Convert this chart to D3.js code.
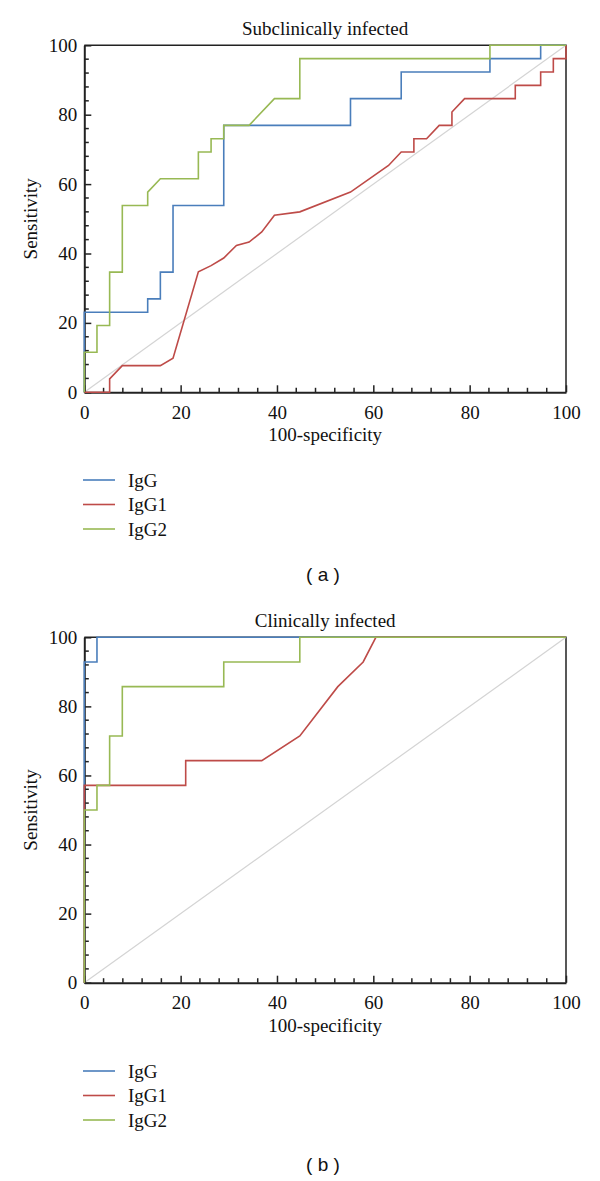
<!DOCTYPE html>
<html><head><meta charset="utf-8">
<script src="https://cdn.jsdelivr.net/npm/d3@7"></script>
<style>
body{margin:0;background:#fff;}
svg text{font-family:"Liberation Serif","Times New Roman",serif;fill:#111;}
</style></head>
<body><svg id="c" width="600" height="1181"></svg>
<script>
// ---- data ----
const seriesNames = ["IgG", "IgG1", "IgG2"];
const seriesColors = ["#4a7ebb", "#be4b48", "#98b954"];
const panelTitles = ["Subclinically infected", "Clinically infected"];
const panelLabels = ["( a )", "( b )"];
const xTicks = [0, 20, 40, 60, 80, 100];
const yTicks = [0, 20, 40, 60, 80, 100];

// Panel (a) — [100-specificity, sensitivity]
const subIgG = [[0,0],[0,23.08],[13.16,23.08],[13.16,26.92],[15.79,26.92],[15.79,34.62],[18.42,34.62],[18.42,53.85],[28.95,53.85],[28.95,76.92],[55.26,76.92],[55.26,84.62],[65.79,84.62],[65.79,92.31],[84.21,92.31],[84.21,96.15],[94.74,96.15],[94.74,100],[100,100]];
const subIgG1 = [[0,0],[5.26,0],[5.26,3.85],[7.89,7.69],[15.79,7.69],[18.42,9.8],[23.68,34.7],[26.32,36.5],[28.95,38.7],[31.58,42.3],[34.21,43.3],[36.84,46.2],[39.47,51.0],[44.74,52.0],[55.26,57.69],[63.16,65.38],[65.79,69.23],[68.42,69.23],[68.42,73.08],[71.05,73.08],[73.68,76.92],[76.32,76.92],[76.32,80.77],[78.95,84.62],[89.47,84.62],[89.47,88.46],[94.74,88.46],[94.74,92.31],[97.37,92.31],[97.37,96.15],[100,96.15],[100,100]];
const subIgG2 = [[0,0],[0,11.54],[2.63,11.54],[2.63,19.23],[5.26,19.23],[5.26,34.62],[7.89,34.62],[7.89,53.85],[13.16,53.85],[13.16,57.69],[15.79,61.54],[23.68,61.54],[23.68,69.23],[26.32,69.23],[26.32,73.08],[28.95,73.08],[28.95,76.92],[34.21,76.92],[39.47,84.62],[44.74,84.62],[44.74,96.15],[84.21,96.15],[84.21,100],[100,100]];

// Panel (b)
const cliIgG = [[0,0],[0,92.86],[2.63,92.86],[2.63,100],[100,100]];
const cliIgG1 = [[0,0],[0,57.14],[21.05,57.14],[21.05,64.29],[36.84,64.29],[44.74,71.43],[52.63,85.71],[57.89,92.86],[60.53,100],[100,100]];
const cliIgG2 = [[0,0],[0,50],[2.63,50],[2.63,57.14],[5.26,57.14],[5.26,71.43],[7.89,71.43],[7.89,85.71],[28.95,85.71],[28.95,92.86],[44.74,92.86],[44.74,100],[100,100]];

const panels = [
  {title: panelTitles[0], label: panelLabels[0], series: [subIgG, subIgG1, subIgG2], top: 45.3, bottom: 392.3, legendY: 480, labelY: 574},
  {title: panelTitles[1], label: panelLabels[1], series: [cliIgG, cliIgG1, cliIgG2], top: 637.3, bottom: 982.7, legendY: 1071, labelY: 1164}
];

const SERIF = "'Liberation Serif', 'Times New Roman', serif";
const svg = d3.select("#c");
const left = 84.3, right = 566;

panels.forEach(p => {
  const g = svg.append("g");
  const x = d3.scaleLinear().domain([0, 100]).range([left, right]);
  const y = d3.scaleLinear().domain([0, 100]).range([p.bottom, p.top]);

  // frame top & right
  g.append("path")
    .attr("d", `M${x(0)},${y(100)}H${x(100)}V${y(0)}`)
    .attr("fill", "none").attr("stroke", "#222").attr("stroke-width", 1.5);

  // diagonal reference
  g.append("line")
    .attr("x1", x(0)).attr("y1", y(0)).attr("x2", x(100)).attr("y2", y(100))
    .attr("stroke", "#d4d4d4").attr("stroke-width", 1.2);

  const minor = d3.range(0, 101, 4).filter(v => v % 20 !== 0);
  // x axis
  const xAxis = d3.axisBottom(x).tickValues(xTicks).tickSize(-7).tickPadding(13).tickSizeOuter(0);
  const xg = g.append("g").attr("transform", `translate(0,${y(0)})`).call(xAxis);
  xg.attr("font-family", null).attr("font-size", null);
  xg.selectAll("line").attr("stroke", "#222").attr("stroke-width", 1.5);
  xg.select(".domain").attr("stroke", "#222").attr("stroke-width", 2);
  xg.selectAll("text").style("font-size", "19px").style("font-family", SERIF).attr("fill", "#111");
  xg.selectAll(".minor").data(minor).enter().append("line").attr("class", "minor")
    .attr("x1", d => x(d)).attr("x2", d => x(d)).attr("y1", 0).attr("y2", -4.5)
    .attr("stroke", "#222").attr("stroke-width", 1.5);

  // y axis
  const yAxis = d3.axisLeft(y).tickValues(yTicks).tickSize(-7).tickPadding(7).tickSizeOuter(0);
  const yg = g.append("g").attr("transform", `translate(${x(0)},0)`).call(yAxis);
  yg.attr("font-family", null).attr("font-size", null);
  yg.selectAll("line").attr("stroke", "#222").attr("stroke-width", 1.5);
  yg.select(".domain").attr("stroke", "#222").attr("stroke-width", 2);
  yg.selectAll("text").style("font-size", "19px").style("font-family", SERIF).attr("fill", "#111");
  yg.selectAll(".minor").data(minor).enter().append("line").attr("class", "minor")
    .attr("y1", d => y(d)).attr("y2", d => y(d)).attr("x1", 0).attr("x2", 4.5)
    .attr("stroke", "#222").attr("stroke-width", 1.5);

  // title
  g.append("text").attr("x", (left + right) / 2).attr("y", p.top - 10)
    .attr("text-anchor", "middle").style("font-size", "19px").style("font-family", SERIF).text(p.title);
  // axis titles
  g.append("text").attr("x", (left + right) / 2).attr("y", p.bottom + 49)
    .attr("text-anchor", "middle").style("font-size", "19px").style("font-family", SERIF).text("100-specificity");
  g.append("text").attr("transform", `translate(37,${(p.top + p.bottom) / 2}) rotate(-90)`)
    .attr("text-anchor", "middle").style("font-size", "19px").style("font-family", SERIF).text("Sensitivity");

  // curves
  const line = d3.line().x(d => x(d[0])).y(d => y(d[1]));
  p.series.forEach((s, i) => {
    g.append("path").datum(s).attr("d", line)
      .attr("fill", "none").attr("stroke", seriesColors[i]).attr("stroke-width", 1.6)
      .attr("stroke-linejoin", "miter");
  });

  // legend
  seriesNames.forEach((n, i) => {
    const ly = p.legendY + i * 24.5;
    g.append("line").attr("x1", 83).attr("x2", 115).attr("y1", ly).attr("y2", ly)
      .attr("stroke", seriesColors[i]).attr("stroke-width", 1.6);
    g.append("text").attr("x", 128).attr("y", ly + 6.5)
      .style("font-size", "19px").style("font-family", SERIF).text(n);
  });

  // panel label
  g.append("text").attr("x", 323).attr("y", p.labelY + 7)
    .attr("text-anchor", "middle").style("font-size", "19px")
    .style("font-family", "'Liberation Sans', Arial, sans-serif").text(p.label);
});
</script>
</body></html>
